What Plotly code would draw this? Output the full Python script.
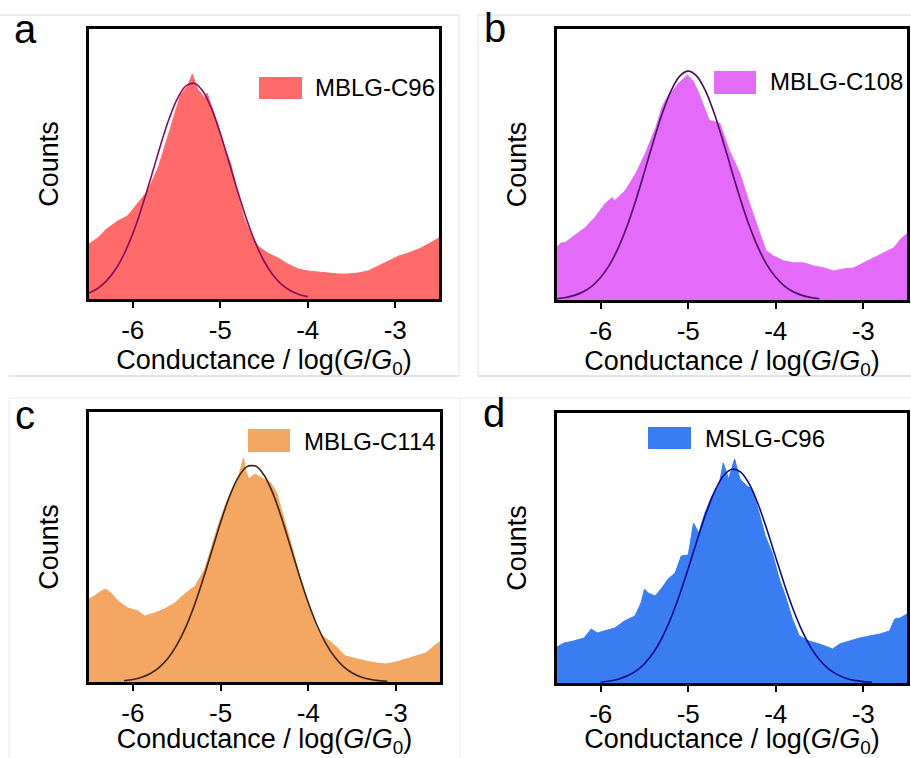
import plotly.graph_objects as go

W, H = 911, 758

# ---------------- data ----------------
panel_labels = ["a", "b", "c", "d"]
series_names = ["MBLG-C96", "MBLG-C108", "MBLG-C114", "MSLG-C96"]
tick_vals = [-6, -5, -4, -3]
tick_text = ["-6", "-5", "-4", "-3"]

a_x = [-6.50, -6.40, -6.30, -6.17, -6.06, -5.94, -5.83, -5.71, -5.60, -5.52, -5.45, -5.37, -5.32, -5.26,
       -5.18, -5.15, -5.11, -5.03, -4.95, -4.88, -4.80, -4.73, -4.65, -4.57, -4.46, -4.34, -4.23, -4.11,
       -4.00, -3.88, -3.77, -3.65, -3.54, -3.42, -3.31, -3.19, -3.08, -2.96, -2.85, -2.73, -2.62, -2.50]
a_counts = [55, 61, 70, 78, 83, 96, 108, 131, 161, 185, 205, 213, 225, 210,
            201, 206, 195, 175, 151, 135, 105, 81, 65, 53, 46, 41, 35, 30,
            28, 27, 26, 25, 25, 26, 28, 33, 38, 43, 46, 50, 55, 61]

b_x = [-6.50, -6.45, -6.41, -6.30, -6.18, -6.07, -5.95, -5.87, -5.84, -5.72, -5.60, -5.49, -5.37, -5.30,
       -5.26, -5.20, -5.11, -5.01, -4.95, -4.88, -4.76, -4.64, -4.53, -4.41, -4.30, -4.18, -4.11, -4.03,
       -3.91, -3.80, -3.68, -3.57, -3.45, -3.34, -3.22, -3.11, -2.99, -2.88, -2.76, -2.65, -2.57, -2.50]
b_counts = [53, 57, 57, 64, 72, 82, 96, 102, 99, 109, 126, 146, 172, 192,
            199, 206, 216, 224, 219, 206, 179, 176, 149, 126, 96, 66, 49, 44,
            39, 37, 37, 34, 32, 29, 31, 32, 37, 42, 47, 52, 61, 66]

c_x = [-6.50, -6.44, -6.36, -6.31, -6.25, -6.17, -6.06, -5.94, -5.87, -5.75, -5.64, -5.52, -5.41, -5.29,
       -5.18, -5.10, -5.03, -4.95, -4.87, -4.80, -4.74, -4.72, -4.68, -4.61, -4.53, -4.43, -4.36, -4.26,
       -4.19, -4.11, -4.03, -3.96, -3.88, -3.81, -3.69, -3.58, -3.46, -3.35, -3.23, -3.12, -3.00, -2.89,
       -2.77, -2.66, -2.54, -2.50]
c_counts = [83, 86, 91, 93, 89, 81, 74, 71, 66, 69, 73, 79, 88, 96,
            113, 136, 156, 176, 193, 204, 224, 213, 203, 208, 204, 199, 189, 159,
            136, 109, 86, 66, 49, 44, 36, 26, 23, 21, 19, 18, 20, 23,
            26, 29, 38, 40]

d_x = [-6.50, -6.42, -6.31, -6.19, -6.11, -6.04, -5.96, -5.84, -5.73, -5.61, -5.54, -5.50, -5.46, -5.38,
       -5.31, -5.23, -5.15, -5.08, -5.00, -4.94, -4.88, -4.81, -4.73, -4.65, -4.60, -4.54, -4.47, -4.41,
       -4.33, -4.27, -4.19, -4.12, -4.04, -3.96, -3.89, -3.81, -3.73, -3.62, -3.50, -3.43, -3.35, -3.27,
       -3.16, -3.04, -2.93, -2.81, -2.70, -2.64, -2.58, -2.50]
d_counts = [36, 40, 42, 45, 54, 50, 52, 55, 62, 67, 80, 94, 90, 87,
            94, 104, 110, 127, 128, 160, 150, 170, 187, 197, 220, 204, 224, 204,
            197, 194, 170, 147, 130, 104, 87, 64, 47, 42, 39, 37, 34, 39,
            42, 45, 47, 49, 52, 64, 65, 69]

# Gaussian fit curves
a_fit_x = [-6.5, -6.4, -6.3, -6.2, -6.1, -6.0, -5.9, -5.8, -5.7, -5.6, -5.5, -5.4, -5.3, -5.2, -5.1,
           -5.0, -4.9, -4.8, -4.7, -4.6, -4.5, -4.4, -4.3, -4.2, -4.1, -4.0]
a_fit = [5.9, 10.6, 18.1, 29.2, 44.9, 65.4, 90.6, 119.1, 148.8, 176.4, 198.7, 212.5, 215.8, 208.1, 190.6,
         165.8, 137.0, 107.4, 80.0, 56.6, 38.0, 24.3, 14.7, 8.5, 4.6, 2.4]

b_fit_x = [-6.5, -6.4, -6.3, -6.2, -6.1, -6.0, -5.9, -5.8, -5.7, -5.6, -5.5, -5.4, -5.3, -5.2, -5.1,
           -5.0, -4.9, -4.8, -4.7, -4.6, -4.5, -4.4, -4.3, -4.2, -4.1, -4.0, -3.9, -3.8, -3.7, -3.6, -3.5]
b_fit = [1.3, 2.5, 4.6, 8.2, 13.9, 22.6, 35.0, 51.9, 73.4, 99.2, 127.9, 157.5, 185.2, 207.9, 222.8,
         228.0, 222.8, 207.9, 185.2, 157.5, 127.9, 99.2, 73.4, 51.9, 35.0, 22.6, 13.9, 8.2, 4.6, 2.5, 1.3]

c_fit_x = [-6.1, -6.0, -5.9, -5.8, -5.7, -5.6, -5.5, -5.4, -5.3, -5.2, -5.1, -5.0, -4.9, -4.8, -4.7,
           -4.6, -4.5, -4.4, -4.3, -4.2, -4.1, -4.0, -3.9, -3.8, -3.7, -3.6, -3.5, -3.4, -3.3, -3.2, -3.1]
c_fit = [1.3, 2.5, 4.8, 8.5, 14.6, 23.7, 36.9, 54.4, 76.6, 102.8, 131.3, 159.8, 185.3, 204.7, 215.4,
         215.9, 206.2, 187.6, 162.6, 134.2, 105.6, 79.1, 56.5, 38.4, 24.9, 15.3, 9.0, 5.0, 2.7, 1.4, 0.7]

d_fit_x = [-6.0, -5.9, -5.8, -5.7, -5.6, -5.5, -5.4, -5.3, -5.2, -5.1, -5.0, -4.9, -4.8, -4.7, -4.6,
           -4.5, -4.4, -4.3, -4.2, -4.1, -4.0, -3.9, -3.8, -3.7, -3.6, -3.5, -3.4, -3.3, -3.2, -3.1,
           -3.0, -2.9]
d_fit = [1.0, 2.0, 3.8, 6.9, 11.8, 19.3, 30.2, 45.2, 64.5, 88.0, 114.5, 142.3, 168.9, 191.3, 207.0,
         213.8, 210.9, 198.6, 178.5, 153.2, 125.6, 98.3, 73.5, 52.4, 35.7, 23.2, 14.4, 8.6, 4.8, 2.6,
         1.4, 0.7]

# ---------------- styles ----------------
FONT = "Liberation Sans, Arial, sans-serif"
fill_colors = ["#FF6B6B", "#E46BFA", "#F4A762", "#3A7CF2"]
fit_colors = ["#8A0B5C", "#4A0E5C", "#3E2410", "#0B0B8A"]

# plot boxes in pixels: (left, right, top, bottom)
boxes = [(89, 439, 29, 299), (557, 907, 29, 300), (89, 440, 412, 682), (557, 907, 413, 683)]
# legend positions in pixels: swatch (x0, x1, y0, y1), text x, text y
legends = [((259, 302, 77, 99), 313, 88), ((714, 756, 71, 94), 768, 82),
           ((248, 290, 429, 452), 302, 441), ((648, 691, 427, 449), 703, 438)]
# panel letter positions (left x, center y)
letter_pos = [(12, 29), (482, 28), (13, 415), (481, 413)]

def px(x):
    return x / W

def py(y):
    return 1 - y / H

xs = [a_x, b_x, c_x, d_x]
ys = [a_counts, b_counts, c_counts, d_counts]
fxs = [a_fit_x, b_fit_x, c_fit_x, d_fit_x]
fys = [a_fit, b_fit, c_fit, d_fit]

fig = go.Figure()
shapes = []
annotations = []

for i in range(4):
    ax_suffix = "" if i == 0 else str(i + 1)
    xref = "x" + ax_suffix
    yref = "y" + ax_suffix
    fig.add_trace(go.Scatter(x=xs[i], y=ys[i], mode="lines", fill="tozeroy",
                             fillcolor=fill_colors[i], line=dict(color=fill_colors[i], width=1),
                             name=series_names[i], showlegend=False, xaxis=xref, yaxis=yref))
    fig.add_trace(go.Scatter(x=fxs[i], y=fys[i], mode="lines",
                             line=dict(color=fit_colors[i], width=1.6, shape="spline", smoothing=0.8),
                             name=series_names[i] + " fit", showlegend=False, xaxis=xref, yaxis=yref))
    l, r, t, b = boxes[i]
    xa = dict(domain=[px(l), px(r)], range=[-6.5, -2.5], showline=True, mirror=True,
              linecolor="black", linewidth=2.5, ticks="outside", ticklen=6, tickwidth=2,
              tickcolor="black", tickvals=tick_vals, ticktext=tick_text, showgrid=False,
              zeroline=False, tickfont=dict(family=FONT, size=26, color="black"),
              title=dict(text="Conductance / log(<i>G</i>/<i>G</i><sub>0</sub>)",
                         font=dict(family=FONT, size=27, color="black"), standoff=6),
              anchor=yref, fixedrange=True)
    ya = dict(domain=[py(b), py(t)], range=[0, 270], showline=True, mirror=True,
              linecolor="black", linewidth=2.5, ticks="", showticklabels=False,
              showgrid=False, zeroline=False,
              title=dict(text="Counts", font=dict(family=FONT, size=27, color="black"), standoff=20),
              anchor=xref, fixedrange=True)
    fig.update_layout(**{"xaxis" + ax_suffix: xa, "yaxis" + ax_suffix: ya})

    (sx0, sx1, sy0, sy1), tx, ty = legends[i]
    shapes.append(dict(type="rect", xref="paper", yref="paper", x0=px(sx0), x1=px(sx1),
                       y0=py(sy1), y1=py(sy0), fillcolor=fill_colors[i], line=dict(width=0)))
    annotations.append(dict(text=series_names[i], xref="paper", yref="paper", x=px(tx), y=py(ty),
                            xanchor="left", yanchor="middle", showarrow=False,
                            font=dict(family=FONT, size=24, color="black")))
    lx, ly = letter_pos[i]
    annotations.append(dict(text=panel_labels[i], xref="paper", yref="paper", x=px(lx), y=py(ly),
                            xanchor="left", yanchor="middle", showarrow=False,
                            font=dict(family=FONT, size=40, color="black")))

# faint frame lines separating the sub-images
def hline(y, x0, x1, color):
    shapes.append(dict(type="line", xref="paper", yref="paper", x0=px(x0), x1=px(x1),
                       y0=py(y), y1=py(y), line=dict(color=color, width=1), layer="below"))

def vline(x, y0, y1, color):
    shapes.append(dict(type="line", xref="paper", yref="paper", x0=px(x), x1=px(x),
                       y0=py(y0), y1=py(y1), line=dict(color=color, width=1), layer="below"))

hline(15, 0, 459, "#d8d8d8")
hline(15, 478, 911, "#d8d8d8")
hline(376, 9, 459, "#c8c8c8")
hline(376, 478, 911, "#c8c8c8")
hline(398, 9, 460, "#ececec")
hline(398, 460, 911, "#ececec")
vline(459, 15, 376, "#e4e4e4")
vline(478, 15, 376, "#e4e4e4")
vline(9, 398, 758, "#ececec")
vline(460, 398, 758, "#ececec")

fig.update_layout(width=W, height=H, margin=dict(l=0, r=0, t=0, b=0),
                  paper_bgcolor="white", plot_bgcolor="white",
                  shapes=shapes, annotations=annotations, showlegend=False,
                  font=dict(family=FONT, color="black"))

fig.write_html("out.html", include_plotlyjs=True, config={"displayModeBar": False})
